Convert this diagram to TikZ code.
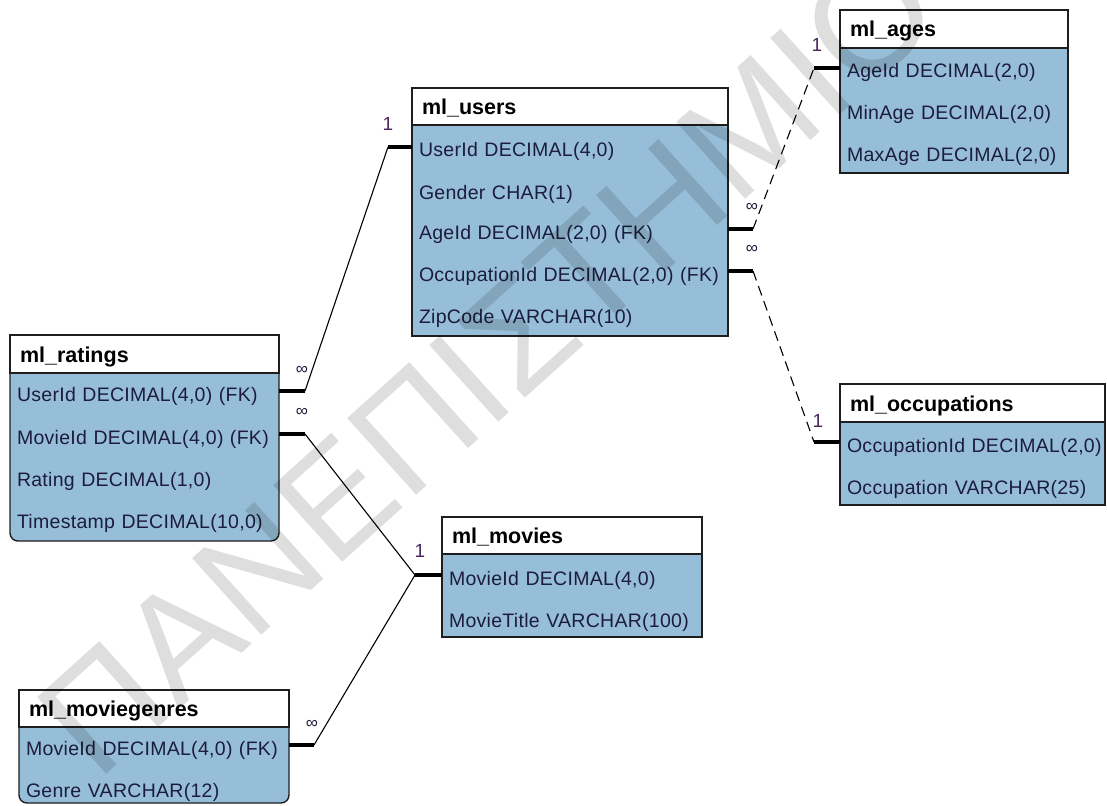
\documentclass[tikz,border=0pt]{standalone}
\usepackage{fontspec}
\setmainfont{Liberation Sans}
\newfontfamily\rowfont[LetterSpace=1.5]{Liberation Sans}

\definecolor{tblfill}{HTML}{97BED8}
\definecolor{tblline}{HTML}{1E1E1E}
\definecolor{rowtext}{HTML}{1C1C3C}
\definecolor{cardone}{HTML}{4A2560}

\tikzset{
  tbody/.style={draw=tblline, line width=1.4pt, fill=tblfill, anchor=north west,
    inner sep=0pt, outer sep=0pt},
  thead/.style={draw=tblline, line width=1.4pt, fill=white, anchor=north west,
    inner xsep=10pt, inner ysep=0pt, outer sep=0pt, minimum height=38pt,
    text height=16pt, text depth=0pt, align=left,
    font=\fontsize{21.5}{22}\selectfont\bfseries},
  trow/.style={anchor=north west, inner xsep=7pt, inner ysep=0pt, outer sep=0pt,
    minimum height=42pt, text height=20pt, text depth=0pt, align=left,
    text=rowtext, font=\rowfont\fontsize{19.5}{20}\selectfont},
  stub/.style={line width=4pt},
  rel/.style={line width=1.1pt},
  reldash/.style={line width=1.1pt, dash pattern=on 10pt off 6pt},
  one/.style={font=\fontsize{19}{19}\selectfont, text=cardone, inner sep=0pt},
  many/.style={font=\fontsize{17}{17}\selectfont, text=rowtext, inner sep=0pt},
  stamptext/.style={rotate=42, text=black, opacity=0.13, inner sep=0pt,
    font=\fontsize{150}{150}\selectfont},
}

\begin{document}
\begin{tikzpicture}[x=1pt, y=-1pt]
\useasboundingbox (0,0) rectangle (1107,805);

% ml_ratings
\node[tbody, rounded corners=8pt, minimum width=269pt, minimum height=206pt] (ratings) at (10,335) {};
\node[thead, text width=249pt] (ratings-h) at (10,335) {ml\_ratings};
\node[trow, text width=255pt] (ratings-uid) at (10,370) {UserId DECIMAL(4,0) (FK)};
\node[trow, text width=255pt] (ratings-mid) at (10,413) {MovieId DECIMAL(4,0) (FK)};
\node[trow, text width=255pt] (ratings-rt)  at (10,455) {Rating DECIMAL(1,0)};
\node[trow, text width=255pt] (ratings-ts)  at (10,497) {Timestamp DECIMAL(10,0)};

% ml_users
\node[tbody, minimum width=316pt, minimum height=248pt] (users) at (412,88) {};
\node[thead, text width=296pt, minimum height=37pt] (users-h) at (412,88) {ml\_users};
\node[trow, text width=302pt] (users-uid) at (412,126) {UserId DECIMAL(4,0)};
\node[trow, text width=302pt] (users-gen) at (412,168) {Gender CHAR(1)};
\node[trow, text width=302pt] (users-age) at (412,208) {AgeId DECIMAL(2,0) (FK)};
\node[trow, text width=302pt] (users-occ) at (412,250) {\mbox{OccupationId DECIMAL(2,0) (FK)}};
\node[trow, text width=302pt] (users-zip) at (412,292) {ZipCode VARCHAR(10)};

% ml_ages
\node[tbody, minimum width=228pt, minimum height=163pt] (ages) at (840,10) {};
\node[thead, text width=208pt] (ages-h) at (840,10) {ml\_ages};
\node[trow, text width=214pt] (ages-id)  at (840,47)  {AgeId DECIMAL(2,0)};
\node[trow, text width=214pt] (ages-min) at (840,89)  {MinAge DECIMAL(2,0)};
\node[trow, text width=214pt] (ages-max) at (840,131) {MaxAge DECIMAL(2,0)};

% ml_occupations
\node[tbody, minimum width=265pt, minimum height=121pt] (occ) at (840,384) {};
\node[thead, text width=245pt] (occ-h) at (840,384) {ml\_occupations};
\node[trow, text width=251pt] (occ-id)   at (840,421) {\mbox{OccupationId DECIMAL(2,0)}};
\node[trow, text width=251pt] (occ-name) at (840,463) {Occupation VARCHAR(25)};

% ml_movies
\node[tbody, minimum width=260pt, minimum height=120pt] (movies) at (442,517) {};
\node[thead, text width=240pt, minimum height=37pt] (movies-h) at (442,517) {ml\_movies};
\node[trow, text width=246pt] (movies-id)    at (442,554) {MovieId DECIMAL(4,0)};
\node[trow, text width=246pt] (movies-title) at (442,596) {MovieTitle VARCHAR(100)};

% ml_moviegenres
\node[tbody, rounded corners=8pt, minimum width=270pt, minimum height=113pt] (genres) at (19,690) {};
\node[thead, text width=250pt, minimum height=37pt] (genres-h) at (19,690) {ml\_moviegenres};
\node[trow, text width=256pt] (genres-mid) at (19,724) {MovieId DECIMAL(4,0) (FK)};
\node[trow, text width=256pt] (genres-gen) at (19,766) {Genre VARCHAR(12)};

% ratings.UserId -> users.UserId
\draw[stub] (ratings-uid.east) -- ++(26,0) coordinate (r1a);
\draw[stub] (users-uid.west) -- ++(-24,0) coordinate (r1b);
\draw[rel] (r1a) -- (r1b);
\node[many] (r1m) at (302,370) {∞};
\node[one]  (r1o) at (388,124) {1};

% ratings.MovieId -> movies.MovieId
\draw[stub] (ratings-mid.east) -- ++(26,0) coordinate (r2a);
\draw[stub] (movies-id.west) -- ++(-27,0) coordinate (r2b);
\draw[rel] (r2a) -- (r2b);
\node[many] (r2m) at (302,412) {∞};
\node[one]  (r2o) at (420,551) {1};

% moviegenres.MovieId -> movies.MovieId
\draw[stub] (genres-mid.east) -- ++(25,0) coordinate (r3a);
\draw[rel] (r3a) -- (r2b);
\node[many] (r3m) at (312,724) {∞};

% users.AgeId -> ages.AgeId
\draw[stub] (users-age.east) -- ++(25,0) coordinate (r4a);
\draw[stub] (ages-id.west) -- ++(-26,0) coordinate (r4b);
\draw[reldash] (r4a) -- (r4b);
\node[many] (r4m) at (752,207) {∞};
\node[one]  (r4o) at (817,45) {1};

% users.OccupationId -> occupations.OccupationId
\draw[stub] (users-occ.east) -- ++(25,0) coordinate (r5a);
\draw[stub] (occ-id.west) -- ++(-26,0) coordinate (r5b);
\draw[reldash] (r5a) -- (r5b);
\node[many] (r5m) at (752,249) {∞};
\node[one]  (r5o) at (818,421) {1};

% faint diagonal lettering across the sheet
\node[stamptext] (stamp) at (488,362) {ΠΑΝΕΠΙΣΤΗΜΙΟ};
\end{tikzpicture}
\end{document}
